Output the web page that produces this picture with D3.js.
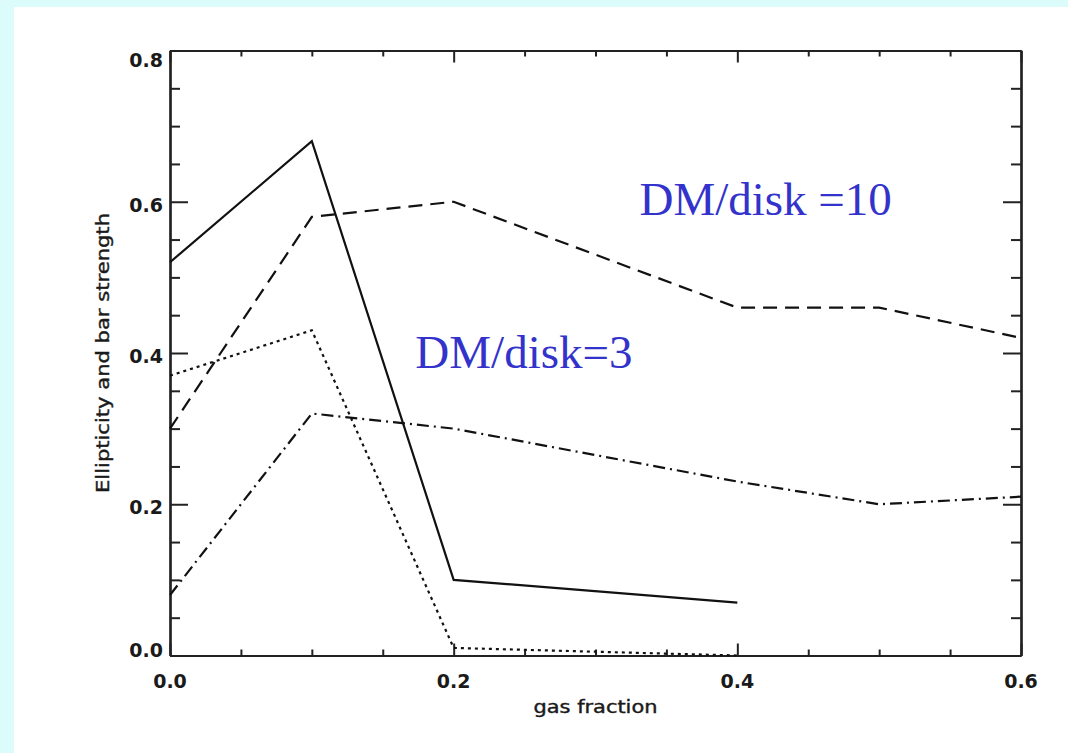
<!DOCTYPE html>
<html>
<head>
<meta charset="utf-8">
<script src="https://cdn.jsdelivr.net/npm/d3@7"></script>
<style>
  html, body { margin: 0; padding: 0; background: #dcfcfc; }
  svg { display: block; }
</style>
</head>
<body>
<svg id="chart" width="1068" height="753"></svg>
<script>
// Bar strength / ellipticity against gas fraction for four runs
const solidX   = [0.0, 0.1, 0.2, 0.4];
const solidY   = [0.52, 0.68, 0.10, 0.07];
const dashedX  = [0.0, 0.1, 0.2, 0.4, 0.5, 0.6];
const dashedY  = [0.30, 0.58, 0.60, 0.46, 0.46, 0.42];
const dottedX  = [0.0, 0.1, 0.2, 0.3, 0.4];
const dottedY  = [0.37, 0.43, 0.01, 0.005, 0.0];
const dashDotX = [0.0, 0.1, 0.2, 0.4, 0.5, 0.6];
const dashDotY = [0.08, 0.32, 0.30, 0.23, 0.20, 0.21];

const xMajorTicks = [0.0, 0.2, 0.4, 0.6];
const xTickLabels = ["0.0", "0.2", "0.4", "0.6"];
const yMajorTicks = [0.0, 0.2, 0.4, 0.6, 0.8];
const yTickLabels = ["0.0", "0.2", "0.4", "0.6", "0.8"];
const minorStep = 0.05;

const xTitle = "gas fraction";
const yTitle = "Ellipticity and bar strength";
const notes = [
  { text: "DM/disk =10", x: 0.331, y: 0.583 },
  { text: "DM/disk=3",   x: 0.173, y: 0.38 }
];

const svg = d3.select("#chart");
const W = 1068, H = 753;
const plotLeft = 170, plotRight = 1021, plotTop = 50.5, plotBottom = 655.5;

// white panel inside the cyan frame
svg.append("rect").attr("x", 14).attr("y", 7)
  .attr("width", W - 14).attr("height", H - 7).attr("fill", "#ffffff");

const x = d3.scaleLinear().domain([0, 0.6]).range([plotLeft, plotRight]);
const y = d3.scaleLinear().domain([0, 0.8]).range([plotBottom, plotTop]);

const minorX = d3.range(0, 0.6 + 1e-9, minorStep).filter(v => !xMajorTicks.some(m => Math.abs(m - v) < 1e-9));
const minorY = d3.range(0, 0.8 + 1e-9, minorStep).filter(v => !yMajorTicks.some(m => Math.abs(m - v) < 1e-9));

const axisColor = "#222";
function styleAxis(g) {
  g.selectAll("path.domain").attr("stroke", axisColor).attr("stroke-width", 2.2);
  g.selectAll(".tick line").attr("stroke", axisColor).attr("stroke-width", 2);
  g.selectAll(".tick text").remove();
}

// inward-pointing ticks on all four sides
const xMajLen = 12, xMinLen = 6, yMajLen = 18, yMinLen = 10;
const axes = [
  [d3.axisBottom(x).tickValues(xMajorTicks).tickSizeInner(-xMajLen).tickSizeOuter(0), `translate(0,${plotBottom})`],
  [d3.axisBottom(x).tickValues(minorX).tickSizeInner(-xMinLen).tickSizeOuter(0), `translate(0,${plotBottom})`],
  [d3.axisTop(x).tickValues(xMajorTicks).tickSizeInner(-xMajLen).tickSizeOuter(0), `translate(0,${plotTop})`],
  [d3.axisTop(x).tickValues(minorX).tickSizeInner(-xMinLen).tickSizeOuter(0), `translate(0,${plotTop})`],
  [d3.axisLeft(y).tickValues(yMajorTicks).tickSizeInner(-yMajLen).tickSizeOuter(0), `translate(${plotLeft},0)`],
  [d3.axisLeft(y).tickValues(minorY).tickSizeInner(-yMinLen).tickSizeOuter(0), `translate(${plotLeft},0)`],
  [d3.axisRight(y).tickValues(yMajorTicks).tickSizeInner(-yMajLen).tickSizeOuter(0), `translate(${plotRight},0)`],
  [d3.axisRight(y).tickValues(minorY).tickSizeInner(-yMinLen).tickSizeOuter(0), `translate(${plotRight},0)`]
];
axes.forEach(([ax, tr]) => {
  svg.append("g").attr("transform", tr).call(ax).call(styleAxis);
});

// tick labels
const labelFont = "'DejaVu Sans', sans-serif";
svg.append("g").selectAll("text").data(xMajorTicks).join("text")
  .attr("x", d => x(d)).attr("y", 688)
  .attr("text-anchor", "middle")
  .attr("font-family", labelFont).attr("font-size", 19).attr("font-weight", "bold").attr("fill", "#1a1a1a")
  .text((d, i) => xTickLabels[i]);

svg.append("g").selectAll("text").data(yMajorTicks).join("text")
  .attr("x", 163)
  .attr("y", d => Math.max(plotTop + 9, Math.min(plotBottom - 6, y(d) + 3)) + 7)
  .attr("text-anchor", "end")
  .attr("font-family", labelFont).attr("font-size", 19).attr("font-weight", "bold").attr("fill", "#1a1a1a")
  .text((d, i) => yTickLabels[i]);

// axis titles
svg.append("text")
  .attr("x", (plotLeft + plotRight) / 2).attr("y", 713)
  .attr("text-anchor", "middle")
  .attr("font-family", labelFont).attr("font-size", 17).attr("fill", "#1a1a1a")
  .attr("stroke", "#1a1a1a").attr("stroke-width", 0.4)
  .attr("textLength", 124).attr("lengthAdjust", "spacingAndGlyphs")
  .text(xTitle);

svg.append("text")
  .attr("transform", `translate(109,${(plotTop + plotBottom) / 2}) rotate(-90)`)
  .attr("text-anchor", "middle")
  .attr("font-family", labelFont).attr("font-size", 17).attr("fill", "#1a1a1a")
  .attr("stroke", "#1a1a1a").attr("stroke-width", 0.4)
  .attr("textLength", 280).attr("lengthAdjust", "spacingAndGlyphs")
  .text(yTitle);

// data lines
const line = d3.line().x(d => x(d[0])).y(d => y(d[1]));
const series = [
  { xs: solidX,   ys: solidY,   dash: null },
  { xs: dashedX,  ys: dashedY,  dash: "14,8" },
  { xs: dottedX,  ys: dottedY,  dash: "3,4" },
  { xs: dashDotX, ys: dashDotY, dash: "12,5,2,5" }
];
svg.append("g").selectAll("path").data(series).join("path")
  .attr("d", s => line(s.xs.map((v, i) => [v, s.ys[i]])))
  .attr("fill", "none")
  .attr("stroke", "#111")
  .attr("stroke-width", 2.2)
  .attr("stroke-dasharray", s => s.dash);

// model annotations
svg.append("g").selectAll("text").data(notes).join("text")
  .attr("x", d => x(d.x)).attr("y", d => y(d.y))
  .attr("font-family", "'Liberation Serif', 'Times New Roman', serif")
  .attr("font-size", 47).attr("fill", "#3333cc")
  .text(d => d.text);
</script>
</body>
</html>
